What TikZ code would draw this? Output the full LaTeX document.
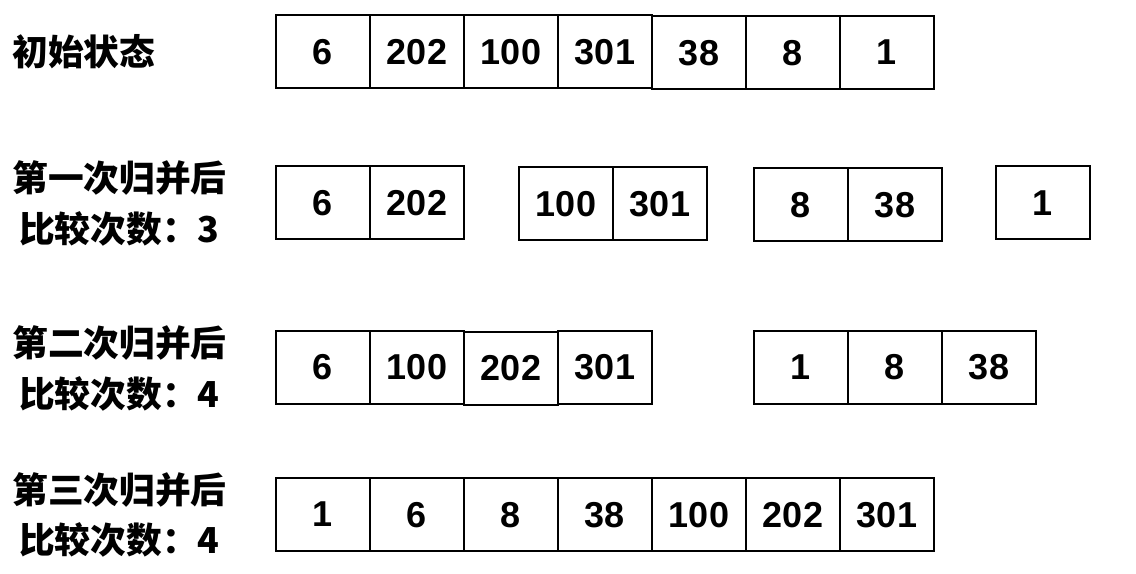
\documentclass[tikz,border=0pt]{standalone}
\usepackage{fontspec}
\setmainfont{Liberation Sans}
\newfontfamily\cjk{Noto Sans CJK SC}
\usetikzlibrary{positioning}

\begin{document}
\begin{tikzpicture}[x=0.75pt, y=-0.75pt,
  cell/.style={rectangle, draw=black, line width=1.5pt, outer sep=0pt,
               minimum width=70.5pt, minimum height=54.75pt, inner sep=0pt,
               text depth=0pt, font=\fontsize{27}{30}\selectfont\bfseries},
  lbl/.style={anchor=west, align=center, inner sep=0pt,
              font=\cjk\fontsize{26.8}{38}\selectfont\bfseries},
  node distance=0pt,
]
  \useasboundingbox (0,0) rectangle (1136,574);

  % row labels
  \node[lbl] (l1) at (12,52) {初始状态};
  \node[lbl] (l2) at (12,203.5) {第一次归并后\\比较次数：3};
  \node[lbl] (l3) at (12,368.5) {第二次归并后\\比较次数：4};
  \node[lbl] (l4) at (12,515) {第三次归并后\\比较次数：4};

  % start
  \node[cell] (a1) at (323,51.5) {6};
  \node[cell, right=of a1] (a2) {202};
  \node[cell, right=of a2] (a3) {100};
  \node[cell, right=of a3] (a4) {301};
  \node[cell, right=of a4, yshift=-0.75pt] (a5) {38};
  \node[cell, right=of a5] (a6) {8};
  \node[cell, right=of a6] (a7) {1};

  % pass 1
  \node[cell] (b1) at (323,203) {6};
  \node[cell, right=of b1] (b2) {202};
  \node[cell] (b3) at (566,203.5) {100};
  \node[cell, right=of b3] (b4) {301};
  \node[cell] (b5) at (801,205) {8};
  \node[cell, right=of b5] (b6) {38};
  \node[cell] (b7) at (1043,203) {1};

  % pass 2
  \node[cell] (c1) at (323,367) {6};
  \node[cell, right=of c1] (c2) {100};
  \node[cell, right=of c2, yshift=-0.75pt] (c3) {202};
  \node[cell, right=of c3, yshift=0.75pt] (c4) {301};
  \node[cell] (c5) at (801,367) {1};
  \node[cell, right=of c5] (c6) {8};
  \node[cell, right=of c6] (c7) {38};

  % pass 3
  \node[cell] (d1) at (323,514.5) {1};
  \node[cell, right=of d1] (d2) {6};
  \node[cell, right=of d2] (d3) {8};
  \node[cell, right=of d3] (d4) {38};
  \node[cell, right=of d4] (d5) {100};
  \node[cell, right=of d5] (d6) {202};
  \node[cell, right=of d6] (d7) {301};
\end{tikzpicture}
\end{document}
